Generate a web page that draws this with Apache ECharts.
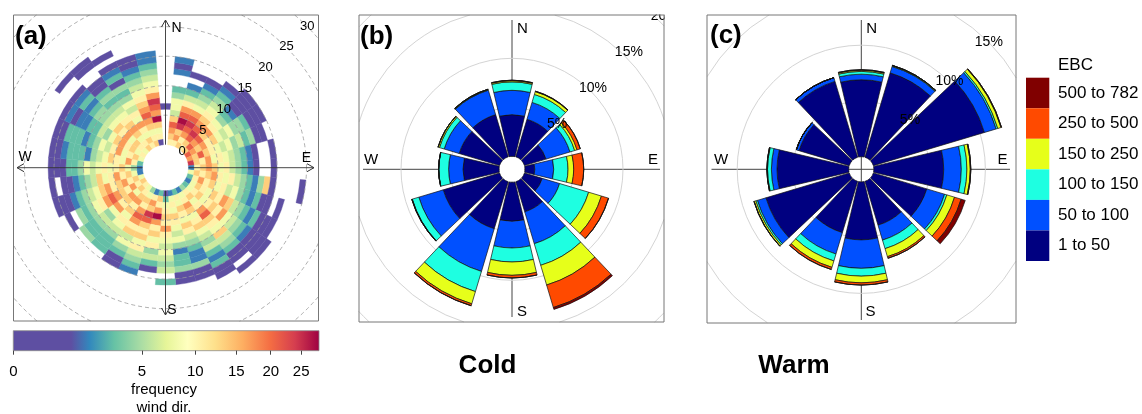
<!DOCTYPE html>
<html><head><meta charset="utf-8">
<script src="https://cdn.jsdelivr.net/npm/echarts@6/dist/echarts.min.js"></script>
<style>html,body{margin:0;padding:0;background:#fff}#c{width:1142px;height:414px}</style>
</head><body><div id="c"></div>
<script>
// ================= DATA =================
// Panel (a): wind direction bins (deg) and wind-speed rings (1 m/s each)
const A_DIRECTIONS = [0,10,20,30,40,50,60,70,80,90,100,110,120,130,140,150,160,170,180,190,200,210,220,230,240,250,260,270,280,290,300,310,320,330,340,350];
// frequency read per cell, coded by colour class (ring 0 = 0-1 m/s ... ring 19 = 19-20 m/s)
const A_FREQ_CODE = {'p':0.6,'b':1.6,'t':3,'g':4.5,'l':6,'y':8,'k':10.5,'o':13.5,'O':17,'r':21,'R':24.5,'D':27.5};
const A_ROWS = [
"......p.............", // 0
"koOrolyygt..bpb.....", // 10
"kOoRDrOkltb.p.......", // 20
"okOrRrOylgtbp.......", // 30
"korRrOokylgtbp......", // 40
"orOroOkygtbpppp.....", // 50
"rOoOkoylyggtppp.....", // 60
"Oorokylygltgpp......", // 70
"RokOykylgtbp..p.....", // 80
"bkoOoyklgtbp..p.....", // 90
"yokoOkyklgtbgop....p", // 100
"tkOkoyklygtbtpp.p...", // 110
"byokyokOolgtbtppp...", // 120
"tykoykokOylgtbpppp..", // 130
"gkoykOrokyolgtpp.p..", // 140
"bykOoykoylgltbtpp...", // 150
"tkyokyoklgtbbgpp....", // 160
"bykyokylygbttgpp....", // 170
"ptykokOkylylgl.t....", // 180
"tokODOkoykgltp......", // 190
"bkOoRrokoyklgtb.....", // 200
"gyokOrOkolygtpp.....", // 210
"ykoOkoykylgttt......", // 220
"koyOokOyglgttg......", // 230
"okOkoOrOkygtg.p.....", // 240
"yokOokOoylgtbppp....", // 250
"byokOkyolgtbpp.p....", // 260
"bgyokykylygttppp....", // 270
"tkOykoylgbtttbpp....", // 280
"yokyOklygtbtttpp....", // 290
"kyokOoyglttbbpbp....", // 300
"ykoyOkoylggtbtbp..p.", // 310
"okyoOokylgtgtpp..pp.", // 320
"koykOyklygtgptbp.p..", // 330
"okyoOrOokylgtbpp....", // 340
"pkyoDOrROkylgtbb...."  // 350
];
const A_SPEED_TICKS = [0,5,10,15,20,25,30];
const COLORBAR_TICKS = [0,5,10,15,20,25];
const FREQ_MAX = 28.2;

// Panels (b) and (c): wind roses, % frequency per EBC class
const ROSE_DIRECTIONS = ['N','NNE','ENE','E','ESE','SSE','S','SSW','WSW','W','WNW','NNW'];
const EBC_CLASSES = ['1 to 50','50 to 100','100 to 150','150 to 250','250 to 500','500 to 782'];
const PCT_TICKS = [5,10,15,20];

const COLD_1_50    = [4.25,4.0,2.3,1.0,1.9,3.2,3.98,5.0,6.0,3.67,4.3,4.5];
const COLD_50_100  = [2.48,1.8,2.55,1.93,1.84,3.4,2.72,4.55,2.6,1.47,1.6,2.6];
const COLD_100_150 = [0.86,0.85,0.5,1.46,3.1,2.3,1.43,2.15,0.7,1.0,0.5,0.05];
const COLD_150_250 = [0.12,0.3,0.25,0.58,1.36,2.1,1.36,1.3,0.03,0.02,0.15,0.05];
const COLD_250_500 = [0.05,0.05,0.35,1.02,0.75,2.4,0.27,0.2,0.02,0,0,0];
const COLD_500_782 = [0,0,0,0,0.02,0.2,0,0.02,0,0,0,0];

const WARM_1_50    = [6.9,7.9,10.4,6.26,5.0,4.1,5.2,4.8,7.8,6.43,4.7,7.1];
const WARM_50_100  = [0.5,0.6,1.1,1.58,1.67,1.4,2.55,2.0,0.8,0.5,0.25,0.35];
const WARM_100_150 = [0.25,0.05,0.15,0.5,0.21,0.8,0.7,0.65,0.15,0.35,0,0];
const WARM_150_250 = [0.1,0.05,0.3,0.3,0.72,0.75,0.6,0.6,0.15,0.05,0,0];
const WARM_250_500 = [0.05,0,0.05,0.05,0.62,0.15,0.2,0.2,0.02,0,0,0];
const WARM_500_782 = [0,0,0,0,0.38,0,0,0,0,0,0,0];

// ================= STYLE / LAYOUT =================
const FONT = "'Liberation Sans', Arial, Helvetica, sans-serif";
const EBC_COLORS = ['#000080','#0050FF','#1EFFE1','#E6FF1A','#FF4A00','#800000'];
const COLOR_STOPS = [[0,'#5E4FA2'],[0.19,'#5E4FA2'],[0.25,'#3288BD'],[0.33,'#66C2A5'],[0.42,'#ABDDA4'],[0.5,'#E6F598'],[0.57,'#FFFFBF'],[0.66,'#FEE08B'],[0.75,'#FDAE61'],[0.84,'#F46D43'],[0.92,'#D53E4F'],[1,'#9E0142']];
const RECT_A = [13.5,15,318.5,321];
const RECT_B = [359,15,664,322];
const RECT_C = [707,15,1016,323];

function hexRgb(h){return [parseInt(h.substr(1,2),16),parseInt(h.substr(3,2),16),parseInt(h.substr(5,2),16)];}
function colorFor(v){
  const f = Math.max(0, Math.min(1, Math.sqrt(v)/Math.sqrt(FREQ_MAX)));
  for (let i=1;i<COLOR_STOPS.length;i++){
    if (f <= COLOR_STOPS[i][0]){
      const a = COLOR_STOPS[i-1], b = COLOR_STOPS[i];
      const t = (f-a[0])/(b[0]-a[0] || 1);
      const ca = hexRgb(a[1]), cb = hexRgb(b[1]);
      return 'rgb(' + ca.map((c,k)=>Math.round(c+(cb[k]-c)*t)).join(',') + ')';
    }
  }
  return COLOR_STOPS[COLOR_STOPS.length-1][1];
}

function arcSegments(cx, cy, R, rc){
  const N = 1440, inside = [];
  for (let i=0;i<N;i++){
    const a = i/N*2*Math.PI, x = cx+R*Math.cos(a), y = cy+R*Math.sin(a);
    inside.push(x>=rc[0] && x<=rc[2] && y>=rc[1] && y<=rc[3]);
  }
  const segs=[]; let s=-1;
  for (let i=0;i<N;i++){
    if (inside[i] && s<0) s=i;
    if (!inside[i] && s>=0){ segs.push([s,i-1]); s=-1; }
  }
  if (s>=0) segs.push([s,N-1]);
  if (segs.length===1 && segs[0][0]===0 && segs[0][1]===N-1) return [[0,2*Math.PI]];
  if (segs.length>1 && segs[0][0]===0 && segs[segs.length-1][1]===N-1){
    const last = segs.pop(); segs[0] = [last[0], segs[0][1]+N];
  }
  return segs.map(g=>[g[0]/N*2*Math.PI, (g[1]+1)/N*2*Math.PI]);
}

function ringRenderer(rc, style){
  return function(params, api){
    const cs = params.coordSys, cx = cs.cx, cy = cs.cy;
    const p = api.coord([api.value(0), api.value(1)]);
    const R = Math.hypot(p[0]-cx, p[1]-cy);
    const children = arcSegments(cx, cy, R, rc).map(g=>({
      type:'arc', shape:{cx:cx, cy:cy, r:R, startAngle:g[0], endAngle:g[1], clockwise:true},
      style:Object.assign({fill:null}, style)
    }));
    return {type:'group', children:children};
  };
}
function labelRenderer(fmt, offsetFn, size){
  return function(params, api){
    const cs = params.coordSys, cx = cs.cx, cy = cs.cy;
    const v = api.value(0);
    const p = api.coord([v, api.value(1)]);
    const R = Math.hypot(p[0]-cx, p[1]-cy) + offsetFn(v);
    return {type:'text', x: cx + R*Math.SQRT1_2, y: cy - R*Math.SQRT1_2,
      style:{text:fmt(v), fill:'#000', font: size+'px '+FONT, align:'center', verticalAlign:'middle', textAlign:'center', textVerticalAlign:'middle'}};
  };
}
function cellRenderer(params, api){
  const cs = params.coordSys, cx = cs.cx, cy = cs.cy;
  const ws = api.value(0), wd = api.value(1), f = api.value(2);
  const pi = api.coord([ws, wd]), po = api.coord([ws+1, wd]);
  const r0 = Math.hypot(pi[0]-cx, pi[1]-cy), r1 = Math.hypot(po[0]-cx, po[1]-cy);
  const pa = api.coord([ws+0.5, wd-5]), pb = api.coord([ws+0.5, wd+5]);
  let a0 = Math.atan2(pa[1]-cy, pa[0]-cx), a1 = Math.atan2(pb[1]-cy, pb[0]-cx);
  while (a1 <= a0) a1 += 2*Math.PI;
  const col = colorFor(f);
  return {type:'sector', shape:{cx:cx, cy:cy, r0:r0, r:r1, startAngle:a0, endAngle:a1, clockwise:true},
    style:{fill:col, stroke:col, lineWidth:0.4}};
}

// build cell data
const cellData = [];
A_ROWS.forEach((row, i)=>{
  for (let k=0;k<row.length;k++){
    const ch = row[k];
    if (ch in A_FREQ_CODE) cellData.push([k, A_DIRECTIONS[i], A_FREQ_CODE[ch]]);
  }
});

const COLD = [COLD_1_50, COLD_50_100, COLD_100_150, COLD_150_250, COLD_250_500, COLD_500_782];
const WARM = [WARM_1_50, WARM_50_100, WARM_100_150, WARM_150_250, WARM_250_500, WARM_500_782];

const series = [];
// ---- panel (a)
series.push({type:'custom', coordinateSystem:'polar', polarIndex:0, z:3, silent:true, renderItem:cellRenderer, data:cellData, animation:false});
series.push({type:'custom', coordinateSystem:'polar', polarIndex:0, z:4, silent:true,
  renderItem:ringRenderer(RECT_A, {stroke:'rgba(150,150,150,0.95)', lineWidth:0.8, lineDash:[4,3]}),
  data:A_SPEED_TICKS.filter(v=>v>0).map(v=>[v,0]), animation:false});
series.push({type:'custom', coordinateSystem:'polar', polarIndex:0, z:6, silent:true,
  renderItem:labelRenderer(v=>String(v), v=>0.5, 13), data:A_SPEED_TICKS.map(v=>[v,0]), animation:false});
// ---- panels (b) (c)
function rose(polarIndex, sets, rc, offsetFn, stackName){
  series.push({type:'custom', coordinateSystem:'polar', polarIndex:polarIndex, z:1, silent:true,
    renderItem:ringRenderer(rc, {stroke:'#D4D4D4', lineWidth:1}), data:PCT_TICKS.map(v=>[v,0]), animation:false});
  sets.forEach((arr, i)=>{
    series.push({type:'bar', name:EBC_CLASSES[i], coordinateSystem:'polar', polarIndex:polarIndex, stack:stackName,
      data:arr, barCategoryGap:'11%', z:3, silent:true, animation:false,
      itemStyle:{color:EBC_COLORS[i], borderColor:'#111', borderWidth:0.7}});
  });
  series.push({type:'custom', coordinateSystem:'polar', polarIndex:polarIndex, z:6, silent:true,
    renderItem:labelRenderer(v=>v+'%', offsetFn, 14), data:PCT_TICKS.map(v=>[v,0]), animation:false});
}
rose(1, COLD, RECT_B, v=>0.35*v, 'cold');
rose(2, WARM, RECT_C, v=>0.5, 'warm');
// ---- colorbar
series.push({type:'custom', coordinateSystem:'cartesian2d', xAxisIndex:0, yAxisIndex:0, z:12, silent:true, animation:false,
  data:[[0,0,Math.sqrt(FREQ_MAX),1]],
  renderItem:function(params, api){
    const p0 = api.coord([api.value(0), api.value(3)]);
    const p1 = api.coord([api.value(2), api.value(1)]);
    return {type:'rect', shape:{x:p0[0], y:p0[1], width:p1[0]-p0[0], height:p1[1]-p0[1]},
      style:{fill:new echarts.graphic.LinearGradient(0,0,1,0, COLOR_STOPS.map(s=>({offset:s[0], color:s[1]}))), stroke:'#8a8a8a', lineWidth:0.8}};
  }});

// ================= GRAPHIC (layout elements) =================
const G = [];
function gline(x1,y1,x2,y2,z,stroke,w){G.push({type:'line', z:z, silent:true, shape:{x1:x1,y1:y1,x2:x2,y2:y2}, style:{stroke:stroke||'#333', lineWidth:w||1}});}
function gpoly(pts,z){G.push({type:'polyline', z:z, silent:true, shape:{points:pts}, style:{stroke:'#333', lineWidth:1, fill:null}});}
function gtext(x,y,str,size,bold,align,z){G.push({type:'text', x:x, y:y, z:z||12, silent:true,
  style:{text:str, fill:'#000', font:(bold?'bold ':'')+size+'px '+FONT, align:align||'center', verticalAlign:'middle', textAlign:align||'center', textVerticalAlign:'middle'}});}
function grect(x,y,w,h,fill,stroke,z){G.push({type:'rect', z:z, silent:true, shape:{x:x,y:y,width:w,height:h}, style:{fill:fill, stroke:stroke||null, lineWidth:1}});}

// (a) axes with arrows, stopping at the central hole
const ax = 165.5, ay = 167.7, ah = 23;
gline(ax,20,ax,ay-ah,5,'#333',0.9); gline(ax,ay+ah,ax,315,5,'#333',0.9);
gline(17,ay,ax-ah,ay,5,'#333',0.9); gline(ax+ah,ay,314,ay,5,'#333',0.9);
gpoly([[ax-4,27],[ax,20],[ax+4,27]],5); gpoly([[ax-4,308],[ax,315],[ax+4,308]],5);
gpoly([[24,ay-4],[17,ay],[24,ay+4]],5); gpoly([[307,ay-4],[314,ay],[307,ay+4]],5);
gtext(176.5,28.5,'N',14); gtext(172,310,'S',14); gtext(25,157,'W',14); gtext(306.5,158.5,'E',14);

// (b) axes (under bars)
const bx = 512, by = 169.3;
gline(bx,20,bx,317,1,'#444',1); gline(363,by,660,by,1,'#444',1);
G.push({type:'circle', z:2, silent:true, shape:{cx:bx, cy:by, r:12.4}, style:{fill:'#fff'}});
gtext(522.5,28.5,'N',15); gtext(522,311.5,'S',15); gtext(371,160,'W',15); gtext(653,160,'E',15);

// (c) axes (under bars)
const cx3 = 861.3, cy3 = 169.3;
gline(cx3,20,cx3,320,1,'#444',1); gline(711.5,cy3,1010,cy3,1,'#444',1);
gtext(871.7,28.7,'N',15); gtext(870.5,311.5,'S',15); gtext(721,160,'W',15); gtext(1002.5,160,'E',15);

// masks outside frames (clip text that spills), then frames
grect(0,0,1142,14.5,'#fff',null,10);
grect(664.6,0,42,330,'#fff',null,10);
grect(1016.6,0,125.4,60,'#fff',null,10);
[RECT_A, RECT_B, RECT_C].forEach(r=>G.push({type:'rect', z:11, silent:true,
  shape:{x:r[0], y:r[1], width:r[2]-r[0], height:r[3]-r[1]}, style:{fill:null, stroke:'#777', lineWidth:1}}));

// panel titles and captions
gtext(15,37,'(a)',26,true,'left'); gtext(360,37,'(b)',26,true,'left'); gtext(710,36,'(c)',26,true,'left');
gtext(487.5,366,'Cold',26,true); gtext(794,366,'Warm',26,true);
gtext(164,390,'frequency',15); gtext(164,408,'wind dir.',15);

// EBC legend
gtext(1058,65,'EBC',17,false,'left');
const legTop = 77.7, legH = 30.55;
for (let i=0;i<EBC_CLASSES.length;i++){
  const idx = EBC_CLASSES.length-1-i;
  grect(1026, legTop+i*legH, 23.3, legH, EBC_COLORS[idx], null, 12);
  gtext(1058, legTop+i*legH+legH/2, EBC_CLASSES[idx], 17, false, 'left');
}

// ================= CHART =================
const chart = echarts.init(document.getElementById('c'), null, {renderer:'canvas'});
chart.setOption({
  animation:false,
  backgroundColor:'#fff',
  polar:[
    {center:[ax, ay], radius:[23, 200]},
    {center:[bx, by], radius:[13, 209]},
    {center:[cx3, cy3], radius:[12.6, 235.6]}
  ],
  angleAxis:[
    {polarIndex:0, type:'value', min:0, max:360, startAngle:90, clockwise:true, show:false},
    {polarIndex:1, type:'category', data:ROSE_DIRECTIONS, startAngle:105, clockwise:true, show:false},
    {polarIndex:2, type:'category', data:ROSE_DIRECTIONS, startAngle:105, clockwise:true, show:false}
  ],
  radiusAxis:[
    {polarIndex:0, type:'value', min:0, max:30, show:false},
    {polarIndex:1, type:'value', min:0, max:20, show:false},
    {polarIndex:2, type:'value', min:0, max:20, show:false}
  ],
  grid:[{left:13.3, top:330.7, width:305.7, height:20}],
  xAxis:[{gridIndex:0, type:'value', min:0, max:Math.sqrt(FREQ_MAX), z:12,
    axisLine:{show:false}, splitLine:{show:false},
    axisTick:{show:true, length:4, lineStyle:{color:'#444'}, customValues:COLORBAR_TICKS.map(v=>Math.sqrt(v))},
    axisLabel:{show:true, margin:14, fontSize:15, fontFamily:FONT, color:'#000',
      customValues:COLORBAR_TICKS.map(v=>Math.sqrt(v)), formatter:v=>String(Math.round(v*v))}}],
  yAxis:[{gridIndex:0, type:'value', min:0, max:1, show:false}],
  graphic:G,
  series:series
});
</script>
</body></html>
